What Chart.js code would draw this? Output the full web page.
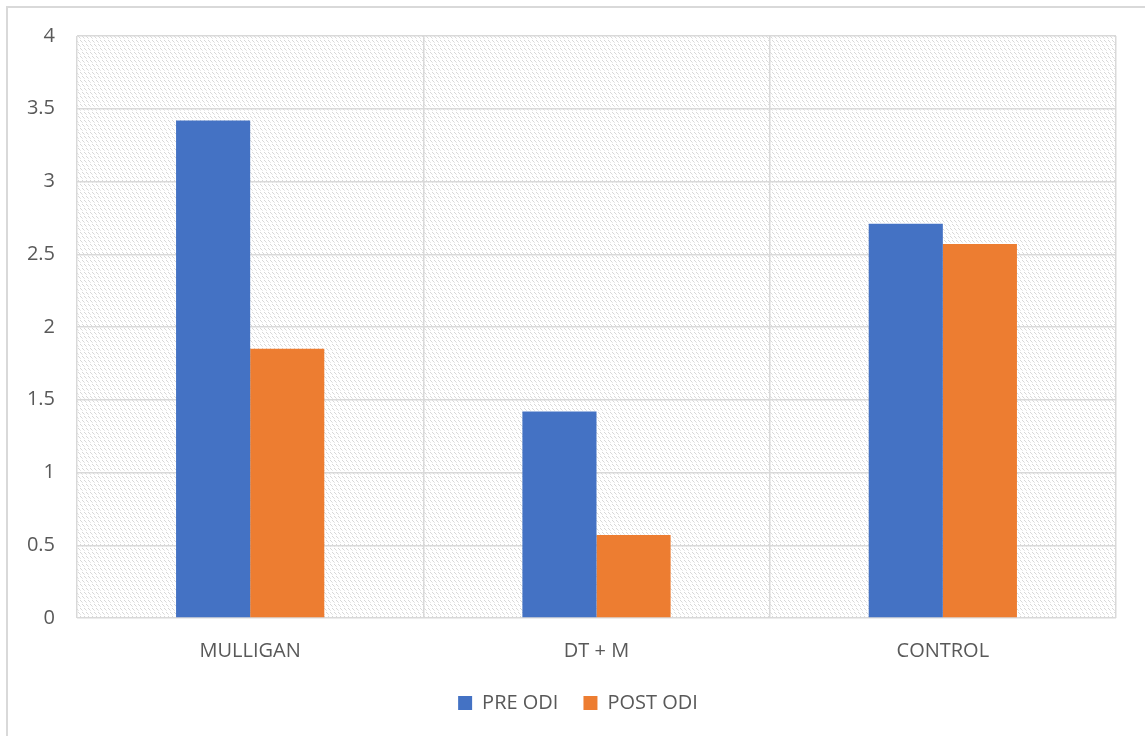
<!DOCTYPE html>
<html>
<head>
<meta charset="utf-8">
<script src="https://cdn.jsdelivr.net/npm/chart.js@4/dist/chart.umd.min.js"></script>
<style>
  html, body { margin: 0; padding: 0; background: #ffffff; }
  #wrap { position: relative; width: 1145px; height: 736px; overflow: hidden; }
  #frame { position: absolute; left: 6px; top: 6px; width: 1160px; height: 760px;
           border: 2px solid #d9d9d9; box-sizing: border-box; }
  canvas { position: absolute; left: 0; top: 0; }
</style>
</head>
<body>
<div id="wrap">
  <div id="frame"></div>
  <canvas id="c" width="1145" height="736"></canvas>
</div>
<script>
// Groups on the horizontal axis
const categories = ["MULLIGAN", "DT + M", "CONTROL"];
// Mean ODI scores before and after treatment
const preOdi  = [3.42, 1.42, 2.71];
const postOdi = [1.85, 0.57, 2.57];
// Value axis ticks
const yTicks = [0, 0.5, 1, 1.5, 2, 2.5, 3, 3.5, 4];

const textColor = "#595959";
const gridColor = "#d9d9d9";
const fontFamily = "'Open Sans', 'Liberation Sans', sans-serif";
const fontSize = 20;

// Light dashed-diagonal texture for the plot background
function makeTexture() {
  const t = document.createElement("canvas");
  t.width = 8; t.height = 8;
  const g = t.getContext("2d");
  g.fillStyle = "#ffffff";
  g.fillRect(0, 0, 8, 8);
  g.fillStyle = "#d8d8d8";
  const pts = [[0,0],[1,1],[4,0],[5,1],[2,4],[3,5],[6,4],[7,5]];
  pts.forEach(p => g.fillRect(p[0], p[1], 1, 1));
  g.fillStyle = "#e8e8e8";
  const pts2 = [[2,2],[6,2],[4,6],[0,6]];
  pts2.forEach(p => g.fillRect(p[0], p[1], 1, 1));
  return t;
}

const plotBackground = {
  id: "plotBackground",
  beforeDraw(chart) {
    const { ctx, chartArea: a } = chart;
    ctx.save();
    ctx.fillStyle = ctx.createPattern(makeTexture(), "repeat");
    ctx.fillRect(a.left, a.top, a.right - a.left, a.bottom - a.top);
    ctx.restore();
  }
};

// Centre the legend under the whole framed figure rather than the chart box
const legendShift = {
  id: "legendShift",
  afterLayout(chart) {
    const lg = chart.legend;
    if (lg) { lg.left += 20; lg.right += 20; }
  }
};

new Chart(document.getElementById("c"), {
  type: "bar",
  data: {
    labels: categories,
    datasets: [
      { label: "PRE ODI", data: preOdi, backgroundColor: "#4472C4" },
      { label: "POST ODI", data: postOdi, backgroundColor: "#ED7D31" }
    ]
  },
  plugins: [plotBackground, legendShift],
  options: {
    responsive: false,
    animation: false,
    devicePixelRatio: 1,
    layout: { padding: { left: 0, top: 36, right: 29, bottom: 13 } },
    datasets: { bar: { barPercentage: 1.0, categoryPercentage: 0.428 } },
    plugins: {
      tooltip: { enabled: false },
      legend: {
        position: "bottom",
        labels: {
          color: textColor,
          font: { family: fontFamily, size: fontSize },
          boxWidth: 14, boxHeight: 14,
          padding: 25
        }
      }
    },
    scales: {
      x: {
        grid: { color: gridColor, lineWidth: 1.5, drawTicks: false, offset: true },
        border: { display: false },
        ticks: { color: textColor, font: { family: fontFamily, size: fontSize }, padding: 21 },
        afterFit(scale) { scale.height = 50; }
      },
      y: {
        min: 0, max: 4,
        afterBuildTicks(scale) { scale.ticks = yTicks.map(v => ({ value: v })); },
        grid: { color: gridColor, lineWidth: 1.5, drawTicks: false },
        border: { display: false },
        ticks: {
          color: textColor, font: { family: fontFamily, size: fontSize }, padding: 22,
          callback: v => String(v)
        },
        afterFit(scale) { scale.width = 77; }
      }
    }
  }
});
</script>
</body>
</html>
